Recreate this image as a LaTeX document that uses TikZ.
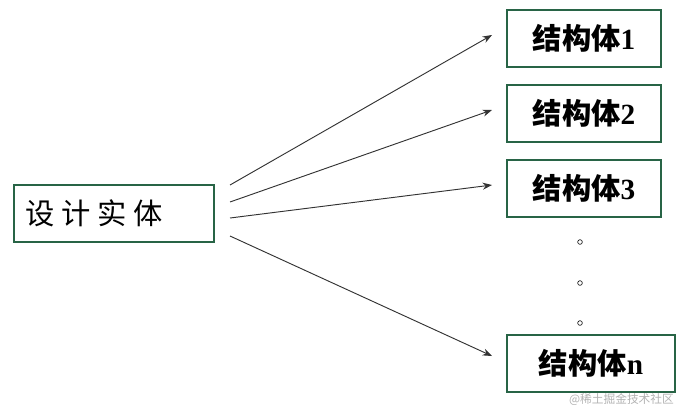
\documentclass[tikz,border=0pt]{standalone}
\usepackage{fontspec}
\setmainfont{Liberation Serif}
\newfontfamily\cjk{Noto Sans CJK SC}
\usetikzlibrary{arrows.meta}
\definecolor{bx}{RGB}{40,100,70}
\begin{document}
\begin{tikzpicture}[x=0.03cm,y=-0.03cm,
  box/.style={draw=bx,line width=1pt,minimum height=57*0.03cm,inner sep=0pt,font=\fontsize{25}{28}\selectfont\bfseries},
  arr/.style={-{Stealth[length=8pt,width=6pt]},draw=black!80,line width=0.8pt},
  dotc/.style={circle,draw,inner sep=0pt,minimum size=4pt,line width=0.5pt}]
\useasboundingbox (0,0) rectangle (680,412);
\node[box,minimum width=200*0.03cm,text width=190*0.03cm,align=left] (e) at (114,213.5) {\hspace*{0.2cm}{\cjk\fontsize{25}{28}\selectfont\mdseries 设\hspace{0.2cm}计\hspace{0.2cm}实\hspace{0.2cm}体}};
\node[box,minimum width=154*0.03cm] (s1) at (584,38.5) {{\cjk 结构体}1};
\node[box,minimum width=154*0.03cm] (s2) at (584,113.5) {{\cjk 结构体}2};
\node[box,minimum width=154*0.03cm] (s3) at (584,188.5) {{\cjk 结构体}3};
\node[box,minimum width=168*0.03cm] (sn) at (591,363.5) {{\cjk 结构体}n};
\coordinate (a1) at (230,185); \coordinate (t1) at (492,35);
\coordinate (a2) at (230,202); \coordinate (t2) at (492,110);
\coordinate (a3) at (230,218); \coordinate (t3) at (492,185);
\coordinate (a4) at (230,236); \coordinate (t4) at (492,356);
\draw[arr] (a1) -- (t1);
\draw[arr] (a2) -- (t2);
\draw[arr] (a3) -- (t3);
\draw[arr] (a4) -- (t4);
\node[dotc] (d1) at (580,242) {};
\node[dotc] (d2) at (580,283) {};
\node[dotc] (d3) at (580,323) {};
\node[text=gray!60,font=\fontsize{10}{11}\selectfont,anchor=east] (wm) at (678,400) {{\cjk @稀土掘金技术社区}};
\end{tikzpicture}
\end{document}
